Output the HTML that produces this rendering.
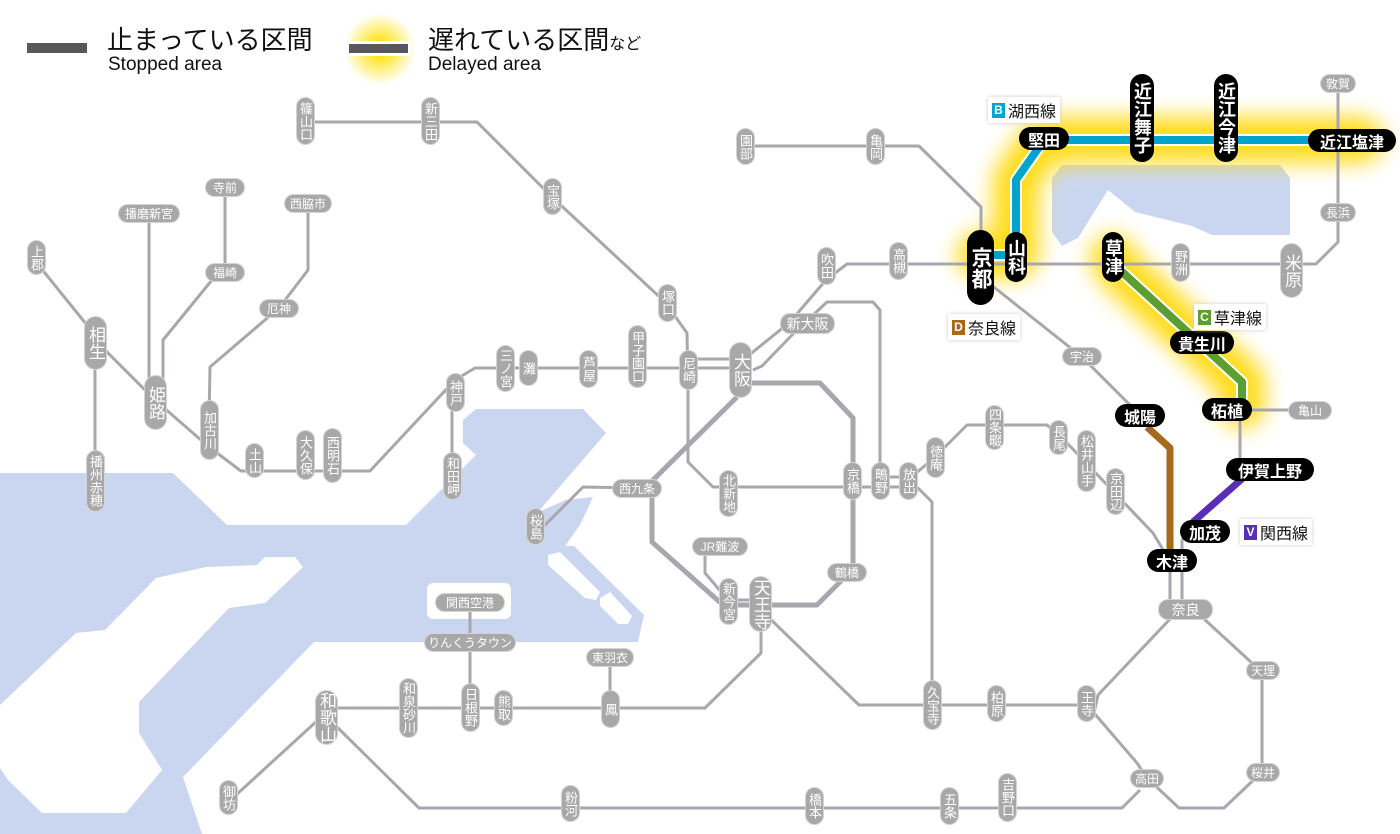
<!DOCTYPE html>
<html><head><meta charset="utf-8"><style>
body{margin:0;background:#fff}
#m{position:relative;width:1400px;height:834px;overflow:hidden;font-family:"Liberation Sans","Noto Sans CJK JP",sans-serif}
svg{position:absolute;left:0;top:0}
.g,.v,.b,.bv{position:absolute;display:flex;align-items:center;justify-content:center;white-space:nowrap;box-sizing:border-box}
.g{background:#a8a8a8;color:#fff;font-size:12px;height:19px;border-radius:10px;border:1px solid #d4d4d4}
.v{background:#a8a8a8;color:#fff;font-size:13px;width:19px;border-radius:10px;writing-mode:vertical-rl;text-orientation:upright;border:1px solid #d4d4d4;line-height:1}
.v.l{width:23px;font-size:17px;border-radius:12px}
.b{background:#000;color:#fff;font-size:16px;font-weight:bold;height:23px;border-radius:12px}
.bv{background:#000;color:#fff;font-size:18px;font-weight:bold;width:24px;border-radius:12px;writing-mode:vertical-rl;text-orientation:upright;line-height:1}
.lab{position:absolute;background:#fff;font-size:16px;color:#111;padding:1px 4px;box-shadow:0 0 4px #ccc;display:flex;align-items:center}
.lab i{font-style:normal;color:#fff;font-size:12px;font-weight:bold;width:13px;height:15px;display:inline-flex;align-items:center;justify-content:center;margin-right:3px}
</style></head><body><div id="m">
<svg width="1400" height="834">
<defs><filter id="bl" x="-20%" y="-20%" width="140%" height="140%"><feGaussianBlur stdDeviation="11"/></filter>
<radialGradient id="rg"><stop offset="0.2" stop-color="#ffe000" stop-opacity="0.9"/><stop offset="1" stop-color="#ffe000" stop-opacity="0"/></radialGradient></defs>
<circle cx="380" cy="49" r="36" fill="url(#rg)"/>
<polygon fill="#cad6f0" points="0,473 173,473 227,525 406,525 476,455 463,443 463,420 476,409 583,409 606,433 538,512 566,500 593,497 580,525 565,546 574,546 644,615 638,642 314,642 183,777 202,834 0,834"/>
<polygon fill="#fff" points="0,705 76,633 105,630 156,578 206,567 257,565 265,557 295,557 303,567 265,603 229,608 139,702 139,733 162,770 126,813 42,813 8,780 0,768"/>
<polygon fill="#fff" points="548,555 560,552 600,592 596,600 585,598 548,565"/>
<polygon fill="#fff" points="600,598 610,592 632,616 628,624 618,624 600,606"/>
<rect x="427" y="583" width="84" height="36" rx="6" fill="#fff"/>
<polygon fill="#cad6f0" points="1062,165 1280,165 1290,178 1290,235 1212,235 1192,226 1135,212 1108,190 1078,238 1062,246 1052,232 1052,178"/>
<g filter="url(#bl)" stroke="#ffd800" stroke-width="46" fill="none" stroke-linejoin="round" stroke-linecap="round" opacity="0.9">
<polyline points="980,255 1016,255 1016,180 1044,140 1360,140"/>
<polyline points="1113,258 1120,270 1242,382 1242,405"/>
</g>
<g stroke="#aaa6ad" stroke-width="3" fill="none" stroke-linejoin="round">
<polyline points="305,122 477,122 552,197 665,302 687,333 688,390 688,462 713,487 908,487"/>
<polyline points="880,477 908,477"/>
<polyline points="36,262 95,335"/>
<polyline points="95,340 155,400"/>
<polyline points="155,400 209,447 241,471 370,471 455,380 475,368 740,368"/>
<polyline points="446,390 452,405 452,470"/>
<polyline points="95,340 95,490"/>
<polyline points="149,213 149,400"/>
<polyline points="225,187 225,272 212,280 163,340 163,400"/>
<polyline points="308,203 308,270 279,308 210,367 209,420"/>
<polyline points="688,359 740,359"/>
<polyline points="748,356 790,322 826,280 847,264 975,264"/>
<polyline points="975,264 1316,264 1338,242 1338,83"/>
<polyline points="753,370 762,366 795,332 827,302 873,302 880,310 880,480"/>
<polyline points="981,250 981,207 919,146 745,146"/>
<polyline points="985,280 1082,357 1140,415"/>
<polyline points="908,480 935,457 967,425 1047,425 1058,435 1067,443 1153,533 1162,548 1170,560"/>
<polyline points="1170,560 1170,610"/>
<polyline points="1182,540 1182,610"/>
<polyline points="1171,618 1098,695 1094,713 1137,763 1147,778"/>
<polyline points="1203,618 1252,663 1262,680 1262,772 1224,808 1179,808 1147,778"/>
<polyline points="1140,790 1122,808 419,808 335,725"/>
<polyline points="761,630 761,653 705,708 326,708"/>
<polyline points="318,720 236,795"/>
<polyline points="470,602 470,708"/>
<polyline points="610,657 610,708"/>
<polyline points="761,610 859,705 1086,705"/>
<polyline points="908,487 917,487 932,502 932,705"/>
<polyline points="1240,410 1240,469"/>
<polyline points="1240,410 1310,410"/>
<polyline points="1182,540 1193,525"/>
<polyline points="705,548 705,573 728,600 760,600"/>
<polyline points="637,488 583,487 543,527"/>
</g>
<polyline stroke="#aaa6ad" stroke-width="5" fill="none" stroke-linejoin="round" points="737,397 653,480 652,493 652,542 723,605 817,605 850,572 853,563 853,418 820,383 750,383"/>
<polyline points="1147,427 1170,448 1170,555" stroke="#a66a1a" stroke-width="7" fill="none" stroke-linejoin="round"/>
<polyline points="1243,478 1193,522" stroke="#5a2db5" stroke-width="7" fill="none"/>
<g fill="none" stroke-linejoin="round">
<polyline points="980,255 1016,255" stroke="#fff" stroke-width="12"/>
<polyline points="1016,240 1016,180 1044,140 1352,140" stroke="#fff" stroke-width="12"/>
<polyline points="1113,262 1120,270 1242,382 1242,405" stroke="#fff" stroke-width="12"/>
<polyline points="980,255 1016,255" stroke="#00a3c9" stroke-width="8"/>
<polyline points="1016,240 1016,180 1044,140 1352,140" stroke="#00a3c9" stroke-width="8"/>
<polyline points="1113,262 1120,270 1242,382 1242,405" stroke="#5c9e32" stroke-width="8"/>
</g>
<rect x="27" y="43" width="60" height="10" fill="#58585a"/>
<rect x="346" y="41" width="65" height="15" fill="#fff"/>
<rect x="349" y="44" width="59" height="9" fill="#58585a"/>
</svg>
<div style="position:absolute;left:107px;top:25px;font-size:26px;line-height:30px;color:#111">止まっている区間</div>
<div style="position:absolute;left:108px;top:54px;font-size:19px;line-height:22px;color:#111">Stopped area</div>
<div style="position:absolute;left:428px;top:25px;font-size:26px;line-height:30px;color:#111">遅れている区間<span style="font-size:16px">など</span></div>
<div style="position:absolute;left:428px;top:54px;font-size:19px;line-height:22px;color:#111">Delayed area</div>
<div class="g" style="left:205px;top:178px;width:40px">寺前</div>
<div class="g" style="left:118px;top:204px;width:62px">播磨新宮</div>
<div class="g" style="left:284px;top:194px;width:48px">西脇市</div>
<div class="g" style="left:205px;top:263px;width:40px">福崎</div>
<div class="g" style="left:259px;top:299px;width:40px">厄神</div>
<div class="g" style="left:780px;top:313px;width:55px;font-size:14px;height:21px">新大阪</div>
<div class="g" style="left:1062px;top:347px;width:40px">宇治</div>
<div class="g" style="left:1288px;top:401px;width:44px">亀山</div>
<div class="g" style="left:1158px;top:599px;width:55px;font-size:14px;height:21px">奈良</div>
<div class="g" style="left:1246px;top:661px;width:34px">天理</div>
<div class="g" style="left:1246px;top:763px;width:34px">桜井</div>
<div class="g" style="left:1130px;top:769px;width:34px">高田</div>
<div class="g" style="left:586px;top:648px;width:48px">東羽衣</div>
<div class="g" style="left:612px;top:479px;width:50px">西九条</div>
<div class="g" style="left:827px;top:563px;width:40px">鶴橋</div>
<div class="g" style="left:692px;top:537px;width:56px">JR難波</div>
<div class="g" style="left:424px;top:633px;width:92px">りんくうタウン</div>
<div class="g" style="left:435px;top:593px;width:70px">関西空港</div>
<div class="g" style="left:1320px;top:74px;width:36px">敦賀</div>
<div class="g" style="left:1320px;top:203px;width:36px">長浜</div>
<div class="v" style="left:296px;top:97px;height:48px">篠山口</div>
<div class="v" style="left:421px;top:97px;height:48px">新三田</div>
<div class="v" style="left:543px;top:178px;height:37px">宝塚</div>
<div class="v" style="left:658px;top:284px;height:38px">塚口</div>
<div class="v" style="left:27px;top:240px;height:35px">上郡</div>
<div class="v l" style="left:84px;top:316px;height:54px">相生</div>
<div class="v l" style="left:144px;top:375px;height:55px">姫路</div>
<div class="v" style="left:200px;top:400px;height:60px">加古川</div>
<div class="v" style="left:245px;top:443px;height:35px">土山</div>
<div class="v" style="left:296px;top:430px;height:50px">大久保</div>
<div class="v" style="left:323px;top:428px;height:55px">西明石</div>
<div class="v" style="left:446px;top:373px;height:39px">神戸</div>
<div class="v" style="left:443px;top:452px;height:48px">和田岬</div>
<div class="v" style="left:86px;top:450px;height:62px">播州赤穂</div>
<div class="v" style="left:496px;top:345px;height:47px">三ノ宮</div>
<div class="v" style="left:519px;top:350px;height:36px">灘</div>
<div class="v" style="left:579px;top:350px;height:38px">芦屋</div>
<div class="v" style="left:628px;top:325px;height:63px">甲子園口</div>
<div class="v" style="left:679px;top:350px;height:40px">尼崎</div>
<div class="v l" style="left:729px;top:342px;height:56px">大阪</div>
<div class="v" style="left:526px;top:508px;height:37px">桜島</div>
<div class="v" style="left:719px;top:470px;height:47px">北新地</div>
<div class="v" style="left:719px;top:578px;height:47px">新今宮</div>
<div class="v l" style="left:749px;top:576px;height:56px">天王寺</div>
<div class="v" style="left:843px;top:462px;height:38px">京橋</div>
<div class="v" style="left:871px;top:462px;height:38px">鴫野</div>
<div class="v" style="left:899px;top:462px;height:38px">放出</div>
<div class="v" style="left:926px;top:437px;height:41px">徳庵</div>
<div class="v" style="left:985px;top:405px;height:45px">四条畷</div>
<div class="v" style="left:1049px;top:420px;height:35px">長尾</div>
<div class="v" style="left:1077px;top:430px;height:62px">松井山手</div>
<div class="v" style="left:1106px;top:468px;height:47px">京田辺</div>
<div class="v" style="left:817px;top:247px;height:38px">吹田</div>
<div class="v" style="left:889px;top:242px;height:38px">高槻</div>
<div class="v" style="left:736px;top:128px;height:37px">園部</div>
<div class="v" style="left:866px;top:128px;height:37px">亀岡</div>
<div class="v" style="left:1171px;top:243px;height:39px">野洲</div>
<div class="v l" style="left:1280px;top:243px;height:55px">米原</div>
<div class="v" style="left:923px;top:680px;height:50px">久宝寺</div>
<div class="v" style="left:987px;top:685px;height:37px">柏原</div>
<div class="v" style="left:1077px;top:685px;height:37px">王寺</div>
<div class="v l" style="left:315px;top:690px;height:55px">和歌山</div>
<div class="v" style="left:399px;top:678px;height:60px">和泉砂川</div>
<div class="v" style="left:461px;top:683px;height:49px">日根野</div>
<div class="v" style="left:494px;top:690px;height:36px">熊取</div>
<div class="v" style="left:601px;top:690px;height:38px">鳳</div>
<div class="v" style="left:219px;top:780px;height:35px">御坊</div>
<div class="v" style="left:561px;top:785px;height:37px">粉河</div>
<div class="v" style="left:805px;top:787px;height:38px">橋本</div>
<div class="v" style="left:940px;top:787px;height:38px">五条</div>
<div class="v" style="left:998px;top:773px;height:49px">吉野口</div>
<div class="bv" style="left:967px;top:230px;height:75px;width:27px;font-size:21px;border-radius:14px">京都</div>
<div class="bv" style="left:1005px;top:232px;height:50px;width:22px">山科</div>
<div class="bv" style="left:1130px;top:74px;height:88px">近江舞子</div>
<div class="bv" style="left:1214px;top:74px;height:88px">近江今津</div>
<div class="bv" style="left:1102px;top:232px;height:50px;width:22px">草津</div>
<div class="b" style="left:1019px;top:127px;width:50px">堅田</div>
<div class="b" style="left:1308px;top:129px;width:88px">近江塩津</div>
<div class="b" style="left:1170px;top:331px;width:64px">貴生川</div>
<div class="b" style="left:1202px;top:398px;width:50px">柘植</div>
<div class="b" style="left:1115px;top:404px;width:50px">城陽</div>
<div class="b" style="left:1226px;top:458px;width:88px">伊賀上野</div>
<div class="b" style="left:1180px;top:520px;width:50px">加茂</div>
<div class="b" style="left:1147px;top:549px;width:50px">木津</div>
<div class="lab" style="left:988px;top:97px"><i style="background:#00a3c9">B</i>湖西線</div>
<div class="lab" style="left:948px;top:314px"><i style="background:#a66a1a">D</i>奈良線</div>
<div class="lab" style="left:1194px;top:304px"><i style="background:#5c9e32">C</i>草津線</div>
<div class="lab" style="left:1240px;top:519px"><i style="background:#5a2db5">V</i>関西線</div>
</div></body></html>
